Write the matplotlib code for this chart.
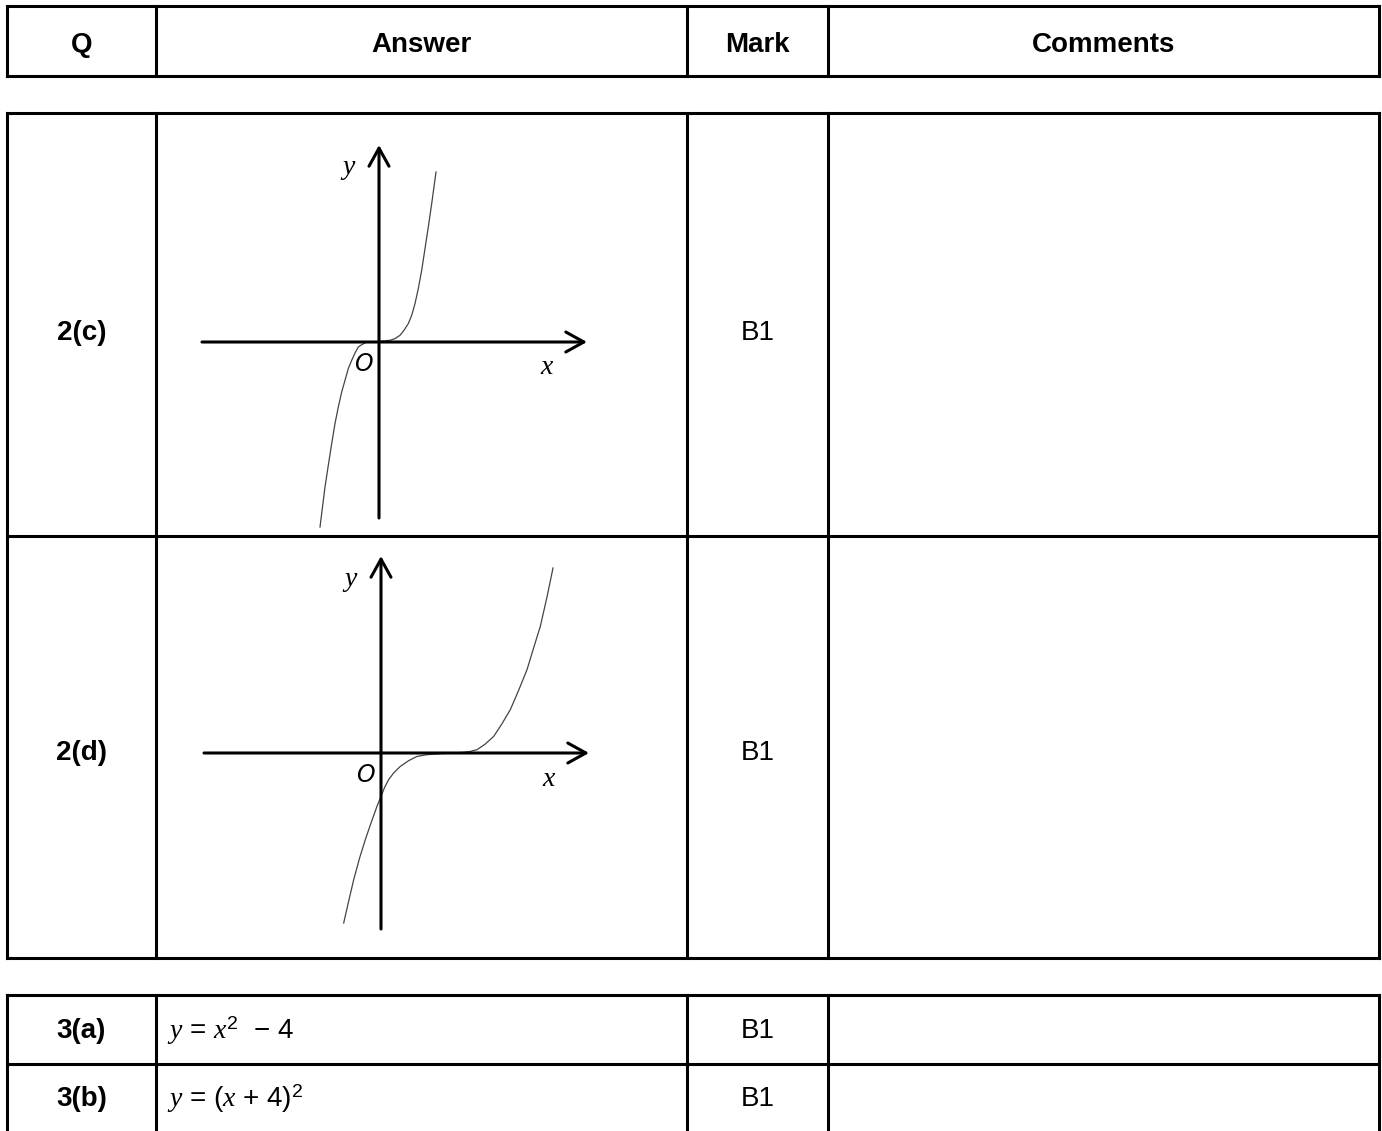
import matplotlib
matplotlib.use("Agg")
import matplotlib.pyplot as plt

plt.rcParams['font.family'] = ['Liberation Sans', 'DejaVu Sans']
plt.rcParams['mathtext.fontset'] = 'custom'
plt.rcParams['mathtext.it'] = 'Liberation Serif:italic'
plt.rcParams['mathtext.rm'] = 'Liberation Sans'

# Data ______________________________________________________________________
headers = ['Q', 'Answer', 'Mark', 'Comments']
questions = ['2(c)', '2(d)', '3(a)', '3(b)']
marks = ['B1', 'B1', 'B1', 'B1']
answers_3 = [r'$y$ = $x^{2}$  − 4', r'$y$ = ($x$ + 4)$^{2}$']

# sketch curves (pixels from the origin, y upwards)
c_x = [-59, -54, -50.7, -47.3, -44, -40.7, -37.3, -34, -30.7, -27.3, -24, -20.7,
       -17.3, -12.3, -7.3, 0, 11, 16, 21, 25, 29.3, 32.7, 36, 39.3, 42.7, 46,
       49.3, 52.7, 57]
c_y = [-185, -145, -123.3, -101.6, -81.6, -65, -50, -38.3, -26.6, -18.3, -11, -5,
       -2.7, 0, 0, 0.7, 1.7, 3.4, 6.7, 11.7, 18.4, 26.7, 38.4, 53.4, 71.7, 93.4,
       115, 138.4, 170]
d_x = [-37.3, -32.4, -27.3, -21.4, -15.7, -10, -4, 0, 3.6, 7.6, 12.6, 19.3, 27.6,
       36, 46, 59.3, 82.7, 89.3, 96, 104.3, 112.7, 121, 129.3, 137.6, 146, 152.6,
       159.3, 166, 172]
d_y = [-170, -148.4, -126.7, -105, -86.7, -70, -53.3, -43.4, -34.4, -26.7, -20,
       -13.4, -7.7, -3.4, -1.7, -0.7, 0.7, 1.6, 3.3, 9, 16.6, 29.3, 43.3, 62.6,
       83.3, 105, 126.6, 156, 185]

# Layout ____________________________________________________________________
W, H = 1382, 1131
cols = [7, 156, 687, 828, 1379]
LW = 2.2

fig = plt.figure(figsize=(W / 100, H / 100), dpi=100)
ax = fig.add_axes([0, 0, 1, 1])
ax.set_xlim(0, W)
ax.set_ylim(H, 0)
ax.axis('off')


def grid(top, rows, bottom_line=True):
    bottom = rows[-1]
    for x in cols:
        ax.plot([x, x], [top, bottom], color='black', lw=LW, solid_capstyle='projecting')
    lines = [top] + rows if bottom_line else [top] + rows[:-1]
    for y in lines:
        ax.plot([cols[0], cols[-1]], [y, y], color='black', lw=LW, solid_capstyle='projecting')


grid(6, [76])
grid(113, [536, 958])
grid(995, [1064, 1140], bottom_line=False)

centres = [(cols[i] + cols[i + 1]) / 2 for i in range(4)]
for c, h in zip(centres, headers):
    ax.text(c, 45, h, ha='center', va='center', fontsize=20, fontweight='bold')

row_y = [333, 753, 1031, 1099]
for y, q, m in zip(row_y, questions, marks):
    ax.text(centres[0], y, q, ha='center', va='center', fontsize=20, fontweight='bold')
    ax.text(centres[2], y, m, ha='center', va='center', fontsize=20)

for y, a in zip(row_y[2:], answers_3):
    ax.text(167, y, a, ha='left', va='center', fontsize=20)


def sketch(ox, oy, xs, ys):
    sx = fig.add_axes([(ox - 200) / W, (H - oy - 200) / H, 430 / W, 420 / H])
    sx.set_xlim(-200, 230)
    sx.set_ylim(-200, 220)
    sx.axis('off')
    arrow = dict(arrowstyle='->,head_length=0.65,head_width=0.36', lw=LW,
                 color='black', shrinkA=0, shrinkB=0, mutation_scale=20)
    sx.annotate('', xy=(208, 0), xytext=(-177, 0), arrowprops=arrow)
    sx.annotate('', xy=(0, 197), xytext=(0, -176), arrowprops=arrow)
    sx.plot(xs, ys, color='#444444', lw=0.9)
    sx.text(-30, 174, 'y', ha='center', va='center', fontsize=20,
            family='Liberation Serif', style='italic')
    sx.text(168, -26, 'x', ha='center', va='center', fontsize=20,
            family='Liberation Serif', style='italic')
    sx.text(-16, -22, 'O', ha='center', va='center', fontsize=17,
            family='DejaVu Sans', style='italic')


sketch(379, 342, c_x, c_y)
sketch(381, 753, d_x, d_y)

fig.savefig('out.png', dpi=100)
